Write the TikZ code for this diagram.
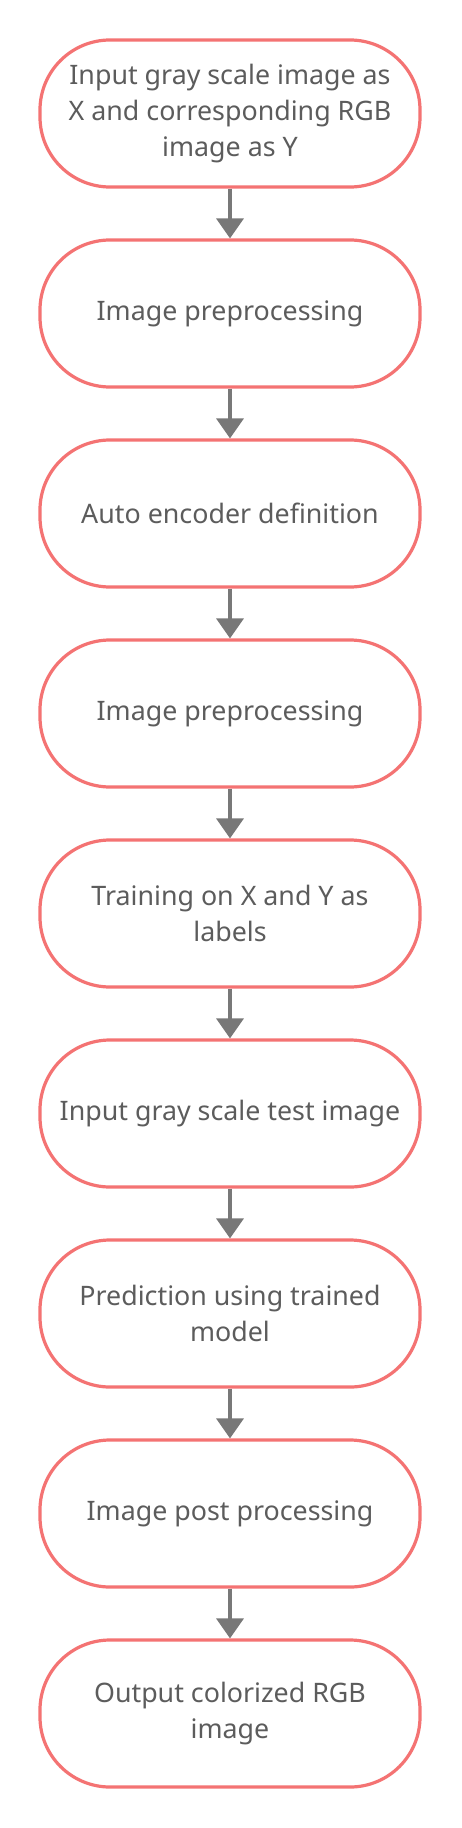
\documentclass[tikz,border=0pt]{standalone}
\usepackage{fontspec}
\setmainfont{Noto Sans}
\usetikzlibrary{arrows.meta}
\definecolor{bordercol}{HTML}{F47373}
\definecolor{arrowcol}{HTML}{787878}
\definecolor{textcol}{HTML}{5C5C5C}
\begin{document}
\begin{tikzpicture}[x=1pt,y=-1pt,
  stepbox/.style={draw=bordercol, line width=3.2pt, fill=white, rectangle,
    rounded corners=70pt, minimum width=380pt, minimum height=147pt,
    align=center, text=textcol,
    font=\fontsize{26.8}{36}\selectfont, inner sep=0pt},
  flow/.style={draw=arrowcol, line width=3.5pt,
    -{Triangle[width=27pt,length=20pt]}}]
\useasboundingbox (0,0) rectangle (461,1828);
\node[stepbox] (n1) at (230,113.5) {Input gray scale image as\\X and corresponding RGB\\image as Y};
\node[stepbox] (n2) at (230,313.5) {Image preprocessing};
\node[stepbox] (n3) at (230,513.5) {Auto encoder definition};
\node[stepbox] (n4) at (230,713.5) {Image preprocessing};
\node[stepbox] (n5) at (230,913.5) {Training on X and Y as\\labels};
\node[stepbox] (n6) at (230,1113.5) {Input gray scale test image};
\node[stepbox] (n7) at (230,1313.5) {Prediction using trained\\model};
\node[stepbox] (n8) at (230,1513.5) {Image post processing};
\node[stepbox] (n9) at (230,1713.5) {Output colorized RGB\\image};
\foreach \a/\b in {n1/n2,n2/n3,n3/n4,n4/n5,n5/n6,n6/n7,n7/n8,n8/n9}
  \draw[flow] (\a.south) -- (\b.north);
\end{tikzpicture}
\end{document}
